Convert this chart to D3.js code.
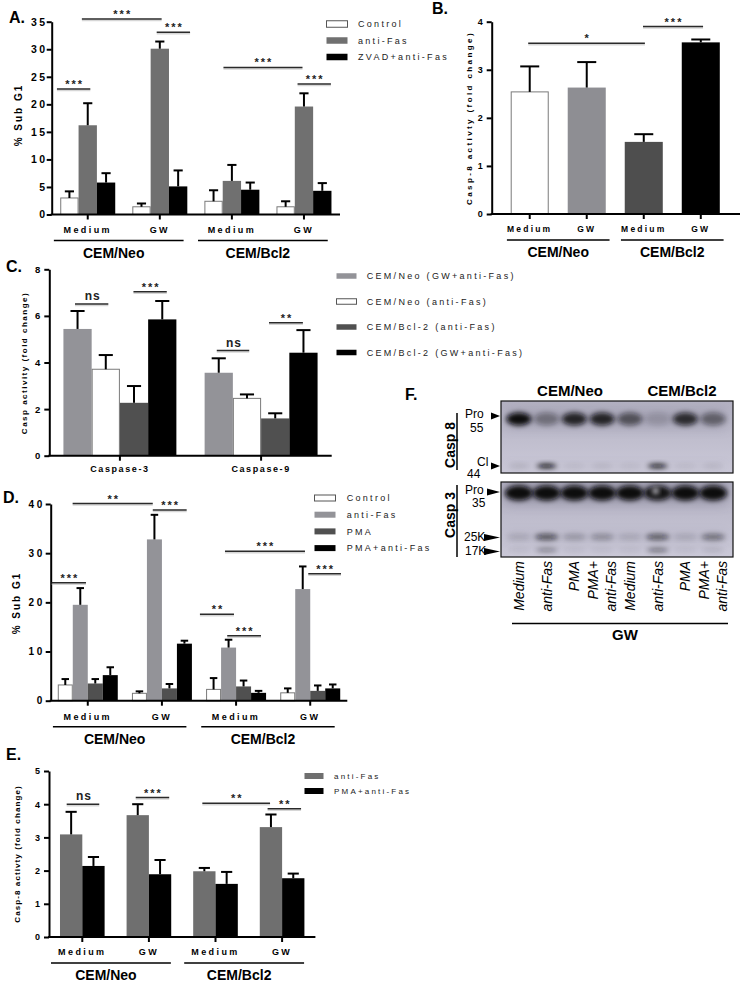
<!DOCTYPE html>
<html>
<head>
<meta charset="utf-8">
<script src="https://cdn.jsdelivr.net/npm/d3@7"></script>
<style>
body { margin: 0; background: #fff; }
svg { display: block; }
</style>
</head>
<body>
<div id="fig"></div>
<script>
// ---------- data ----------
// A: % sub G1, CEM/Neo and CEM/Bcl2, medium or GW
var aGroups = ["Medium", "GW", "Medium", "GW"];
var aSeries = ["Control", "anti-Fas", "ZVAD+anti-Fas"];
var aMeans = [[3.0, 16.2, 5.8], [1.4, 30.1, 5.1], [2.4, 6.1, 4.5], [1.4, 19.6, 4.3]];
var aErrs = [[1.2, 4.0, 1.7], [0.6, 1.3, 2.9], [2.0, 2.9, 1.3], [1.0, 2.4, 1.4]];
var aTicks = [0, 5, 10, 15, 20, 25, 30, 35];
var aSig = [
  {g1: 0, k1: -0.18, g2: 0, k2: 1.64, v: 22.8, t: "***"},
  {g1: 0, k1: 1.18, g2: 1, k2: 1.6, v: 35.5, t: "***"},
  {g1: 1, k1: 1.33, g2: 1, k2: 3.15, v: 33.1, t: "***"},
  {g1: 2, k1: 1.04, g2: 3, k2: 1.42, v: 26.7, t: "***"},
  {g1: 3, k1: 1.15, g2: 3, k2: 2.97, v: 23.7, t: "***"}
];

// B: casp-8 activity
var bGroups = ["Medium", "GW", "Medium", "GW"];
var bMeans = [2.54, 2.63, 1.50, 3.57];
var bErrs = [0.53, 0.53, 0.16, 0.06];
var bTicks = [0, 1, 2, 3, 4];
var bSig = [
  {g1: 0, k1: 0.46, g2: 2, k2: 0.53, v: 3.55, t: "*"},
  {g1: 2, k1: 0.48, g2: 3, k2: 0.56, v: 3.9, t: "***"}
];

// C: caspase-3 / caspase-9 activity
var cGroups = ["Caspase-3", "Caspase-9"];
var cSeries = ["CEM/Neo (GW+anti-Fas)", "CEM/Neo (anti-Fas)", "CEM/Bcl-2 (anti-Fas)", "CEM/Bcl-2 (GW+anti-Fas)"];
var cMeans = [[5.44, 3.71, 2.27, 5.85], [3.56, 2.46, 1.60, 4.42]];
var cErrs = [[0.77, 0.61, 0.72, 0.79], [0.62, 0.17, 0.22, 0.97]];
var cTicks = [0, 2, 4, 6, 8];
var cSig = [
  {g1: 0, k1: 0.41, g2: 0, k2: 1.59, v: 6.51, t: "ns"},
  {g1: 0, k1: 2.48, g2: 0, k2: 3.66, v: 7.04, t: "***"},
  {g1: 1, k1: 0.43, g2: 1, k2: 1.58, v: 4.51, t: "ns"},
  {g1: 1, k1: 2.28, g2: 1, k2: 3.48, v: 5.71, t: "**"}
];

// D: % sub G1 with PMA
var dGroups = ["Medium", "GW", "Medium", "GW"];
var dSeries = ["Control", "anti-Fas", "PMA", "PMA+anti-Fas"];
var dMeans = [[3.2, 19.5, 3.5, 5.2], [1.5, 32.8, 2.5, 11.6], [2.3, 10.8, 2.9, 1.6], [1.6, 22.7, 2.0, 2.5]];
var dErrs = [[1.2, 3.4, 0.9, 1.6], [0.4, 5.0, 0.9, 0.6], [2.3, 1.6, 1.2, 0.4], [0.9, 4.6, 1.1, 0.8]];
var dTicks = [0, 10, 20, 30, 40];
var dSig = [
  {g1: 0, k1: -0.41, g2: 0, k2: 1.88, v: 24.0, t: "***"},
  {g1: 0, k1: 0.99, g2: 1, k2: 1.39, v: 40.1, t: "**"},
  {g1: 1, k1: 1.39, g2: 1, k2: 3.65, v: 38.8, t: "***"},
  {g1: 2, k1: -0.41, g2: 2, k2: 1.86, v: 17.6, t: "**"},
  {g1: 2, k1: 1.41, g2: 2, k2: 3.66, v: 13.2, t: "***"},
  {g1: 2, k1: 1.26, g2: 3, k2: 1.65, v: 30.4, t: "***"},
  {g1: 3, k1: 1.87, g2: 3, k2: 4.05, v: 25.8, t: "***"}
];

// E: casp-8 activity with PMA
var eGroups = ["Medium", "GW", "Medium", "GW"];
var eSeries = ["anti-Fas", "PMA+anti-Fas"];
var eMeans = [[3.09, 2.14], [3.67, 1.89], [1.98, 1.60], [3.31, 1.77]];
var eErrs = [[0.68, 0.27], [0.33, 0.43], [0.10, 0.36], [0.38, 0.14]];
var eTicks = [0, 1, 2, 3, 4, 5];
var eSig = [
  {g1: 0, k1: 0.3, g2: 0, k2: 1.76, v: 4.0, t: "ns"},
  {g1: 1, k1: 0.41, g2: 1, k2: 1.91, v: 4.2, t: "***"},
  {g1: 2, k1: 0.41, g2: 3, k2: 0.46, v: 4.03, t: "**"},
  {g1: 3, k1: 0.35, g2: 3, k2: 1.85, v: 3.86, t: "**"}
];

// F: western blot, band intensity per lane (0..1)
var lanes = ["Medium", "anti-Fas", "PMA", "PMA+|anti-Fas", "Medium", "anti-Fas", "PMA", "PMA+|anti-Fas"];
var casp8Pro = [1.0, 0.35, 0.85, 0.85, 0.55, 0.12, 0.8, 0.45];
var casp8Cl = [0.1, 0.95, 0.05, 0.08, 0.05, 0.9, 0.05, 0.08];
var casp3Pro = [1, 1, 1, 1, 1, 0.95, 1, 1];
var casp3p25 = [0.12, 0.6, 0.22, 0.28, 0.12, 0.55, 0.12, 0.45];
var casp3p17 = [0.05, 0.35, 0.05, 0.05, 0.05, 0.45, 0.05, 0.1];

// ---------- drawing ----------
var FONT = '"Liberation Sans", Arial, Helvetica, sans-serif';
var svg = d3.select("#fig").append("svg")
  .attr("width", 741).attr("height", 986)
  .attr("font-family", FONT);

function styleAxis(sel, size, ls) {
  sel.attr("font-family", FONT).attr("font-size", size).attr("font-weight", "bold");
  sel.select(".domain").attr("stroke-width", 2);
  sel.selectAll(".tick line").attr("stroke-width", 2);
  sel.selectAll(".tick text").attr("letter-spacing", ls).attr("fill", "#000");
}

function barPanel(o) {
  var g = svg.append("g");
  var n = o.means[0].length;
  var x = d3.scaleBand().domain(d3.range(o.groups.length)).range(o.xr)
    .paddingInner(o.pad).paddingOuter(o.padOuter == null ? o.pad / 2 : o.padOuter);
  var bw = x.bandwidth() / n;
  var y = d3.scaleLinear().domain([0, o.ymax]).range(o.yr);
  var px = function (gi, k) { return x(gi) + k * bw; };

  var flat = [];
  o.means.forEach(function (row, gi) {
    row.forEach(function (v, k) { flat.push({g: gi, k: k, v: v, e: o.errs[gi][k]}); });
  });
  var col = function (d) { return o.colors[o.byGroup ? d.g : d.k]; };

  // bars
  g.append("g").selectAll("rect").data(flat).enter().append("rect")
    .attr("x", d => col(d) === "#fff" ? px(d.g, d.k) + 0.5 : px(d.g, d.k))
    .attr("width", d => col(d) === "#fff" ? bw - 1 : bw)
    .attr("y", d => y(d.v))
    .attr("height", d => y(0) - y(d.v))
    .attr("fill", col)
    .attr("stroke", d => col(d) === "#fff" ? "#7a7a7a" : "none");

  // error bars (upper only)
  var eb = g.append("g").attr("stroke", "#000").attr("stroke-width", 2);
  eb.selectAll(".stem").data(flat).enter().append("line")
    .attr("x1", d => px(d.g, d.k + 0.5)).attr("x2", d => px(d.g, d.k + 0.5))
    .attr("y1", d => y(d.v)).attr("y2", d => y(d.v + d.e));
  eb.selectAll(".cap").data(flat).enter().append("line")
    .attr("x1", d => px(d.g, d.k + 0.25)).attr("x2", d => px(d.g, d.k + 0.75))
    .attr("y1", d => y(d.v + d.e)).attr("y2", d => y(d.v + d.e));

  // y axis
  var ya = g.append("g").attr("transform", "translate(" + o.axisX + ",0)")
    .call(d3.axisLeft(y).tickValues(o.ticks).tickFormat(d3.format("d"))
      .tickSize(5).tickSizeOuter(0).tickPadding(o.tickPad));
  styleAxis(ya, o.tickFont, o.tickLs);

  // x axis
  var xa = g.append("g").attr("transform", "translate(0," + o.yr[0] + ")")
    .call(d3.axisBottom(x).tickSize(5).tickSizeOuter(0).tickPadding(o.xPad)
      .tickFormat(i => o.groups[i]));
  styleAxis(xa, o.xFont, o.xLs);
  xa.select(".domain").remove();
  g.append("line").attr("x1", o.axisX - 1).attr("x2", o.xEnd)
    .attr("y1", o.yr[0]).attr("y2", o.yr[0])
    .attr("stroke", "#000").attr("stroke-width", 2);

  // cell line groups
  if (o.cells) o.cells.forEach(function (c, i) {
    var st = x.step();
    var c0 = x(2 * i) + x.bandwidth() / 2, c1 = x(2 * i + 1) + x.bandwidth() / 2;
    var x0 = c0 - o.cellSpan[0] * st, x1 = c1 + o.cellSpan[1] * st;
    g.append("line").attr("x1", x0).attr("x2", x1)
      .attr("y1", o.yr[0] + 26).attr("y2", o.yr[0] + 26)
      .attr("stroke", "#000").attr("stroke-width", 1.5);
    g.append("text").attr("x", (x0 + x1) / 2 - o.cellShift).attr("y", o.yr[0] + 43)
      .attr("text-anchor", "middle").attr("font-weight", "bold").attr("font-size", 14)
      .text(c);
  });

  // significance
  o.sig.forEach(function (s) {
    var x1 = px(s.g1, s.k1), x2 = px(s.g2, s.k2), yy = y(s.v);
    g.append("line").attr("x1", x1).attr("x2", x2).attr("y1", yy + 1.5).attr("y2", yy + 1.5)
      .attr("stroke", "#bbb").attr("stroke-width", 1.5).attr("opacity", 0.6);
    g.append("line").attr("x1", x1).attr("x2", x2).attr("y1", yy).attr("y2", yy)
      .attr("stroke", "#2a2a2a").attr("stroke-width", 1.5);
    var ns = s.t === "ns";
    g.append("text").attr("x", (x1 + x2) / 2 + 1).attr("y", ns ? yy - 4 : yy - 1)
      .attr("text-anchor", "middle").attr("font-weight", "bold")
      .attr("font-size", ns ? 12 : 11).attr("letter-spacing", ns ? 1 : 2)
      .attr("fill", "#222").text(s.t);
  });

  // y label
  g.append("text").attr("transform", "translate(" + o.ylx + "," + o.yly + ") rotate(-90)")
    .attr("text-anchor", "middle").attr("font-weight", "bold")
    .attr("font-size", o.ylSize).attr("letter-spacing", o.ylLs).text(o.ylabel);

  // legend
  if (o.legend) {
    var L = o.legend;
    o.series.forEach(function (s, i) {
      var cy = L.y + i * L.dy;
      g.append("rect").attr("x", L.x + 0.5).attr("y", cy - L.h / 2).attr("width", L.w).attr("height", L.h)
        .attr("fill", o.colors[i]).attr("stroke", o.colors[i] === "#fff" ? "#555" : "none");
      g.append("text").attr("x", L.tx).attr("y", cy + L.size * 0.36)
        .attr("font-size", L.size).attr("letter-spacing", L.ls).attr("fill", "#222").text(s);
    });
  }

  // panel letter
  g.append("text").attr("x", o.letter[1]).attr("y", o.letter[2])
    .attr("font-weight", "bold").attr("font-size", 16).text(o.letter[0]);
}

barPanel({
  groups: aGroups, series: aSeries, means: aMeans, errs: aErrs,
  colors: ["#fff", "#707070", "#000"],
  xr: [51.7, 340], axisX: 51.7, xEnd: 340, pad: 0.237,
  yr: [214.5, 21.7], ymax: 35, ticks: aTicks, tickFont: 10.5, tickLs: 2.5, tickPad: -1,
  xFont: 9, xLs: 2.4, xPad: 7,
  cells: ["CEM/Neo", "CEM/Bcl2"], cellSpan: [0.47, 0.33], cellShift: 5,
  ylabel: "% Sub G1", ylx: 22, yly: 115, ylSize: 10, ylLs: 2,
  legend: {x: 326, y: 24, dy: 16.5, w: 21, h: 6.5, tx: 358, size: 9, ls: 2.3},
  sig: aSig, letter: ["A.", 9, 23]
});

barPanel({
  groups: bGroups, means: bMeans.map(v => [v]), errs: bErrs.map(e => [e]),
  colors: ["#fff", "#8e8e93", "#4e4e4e", "#000"], byGroup: true,
  xr: [501.2, 729.3], axisX: 491.7, xEnd: 740, pad: 0.333, padOuter: 0.1667,
  yr: [214, 21.7], ymax: 4, ticks: bTicks, tickFont: 9, tickLs: 1, tickPad: 3,
  xFont: 8.5, xLs: 2.2, xPad: 7,
  cells: ["CEM/Neo", "CEM/Bcl2"], cellSpan: [0.4, 0.4], cellShift: 0,
  ylabel: "Casp-8 activty (fold change)", ylx: 472, yly: 118, ylSize: 8, ylLs: 2.4,
  sig: bSig, letter: ["B.", 432, 14]
});

barPanel({
  groups: cGroups, series: cSeries, means: cMeans, errs: cErrs,
  colors: ["#939398", "#fff", "#505050", "#000"],
  xr: [49.3, 331.7], axisX: 49.3, xEnd: 331.7, pad: 0.2,
  yr: [455.7, 269.3], ymax: 8, ticks: cTicks, tickFont: 9.5, tickLs: 1, tickPad: 3,
  xFont: 9, xLs: 1.6, xPad: 5,
  ylabel: "Casp activity (fold change)", ylx: 27, yly: 363, ylSize: 8, ylLs: 1.5,
  legend: {x: 336, y: 276, dy: 25.5, w: 20, h: 5.5, tx: 366.7, size: 9, ls: 2.3},
  sig: cSig, letter: ["C.", 6, 272]
});

barPanel({
  groups: dGroups, series: dSeries, means: dMeans, errs: dErrs,
  colors: ["#fff", "#939398", "#505050", "#000"],
  xr: [50.7, 347.3], axisX: 50.7, xEnd: 347.3, pad: 0.191,
  yr: [700.7, 504], ymax: 40, ticks: dTicks, tickFont: 10, tickLs: 2.5, tickPad: 1,
  xFont: 9, xLs: 2.4, xPad: 8,
  cells: ["CEM/Neo", "CEM/Bcl2"], cellSpan: [0.47, 0.33], cellShift: 5,
  ylabel: "% Sub G1", ylx: 20, yly: 603, ylSize: 10, ylLs: 2,
  legend: {x: 314, y: 498, dy: 16.7, w: 21, h: 6, tx: 346.7, size: 9, ls: 2.3},
  sig: dSig, letter: ["D.", 3, 503]
});

barPanel({
  groups: eGroups, series: eSeries, means: eMeans, errs: eErrs,
  colors: ["#6f6f6f", "#000"],
  xr: [49, 315.4], axisX: 49, xEnd: 315.4, pad: 0.33,
  yr: [937, 771], ymax: 5, ticks: eTicks, tickFont: 9, tickLs: 1, tickPad: 3,
  xFont: 9, xLs: 2.4, xPad: 7,
  cells: ["CEM/Neo", "CEM/Bcl2"], cellSpan: [0.47, 0.33], cellShift: 5,
  ylabel: "Casp-8 activty (fold change)", ylx: 20, yly: 854, ylSize: 8, ylLs: 1.1,
  legend: {x: 304, y: 776, dy: 15, w: 19, h: 6, tx: 334, size: 8, ls: 2.2},
  sig: eSig, letter: ["E.", 6, 760]
});

// ---------- F: western blot ----------
(function () {
  var g = svg.append("g");
  var defs = svg.append("defs");
  defs.append("filter").attr("id", "blur").attr("x", "-50%").attr("y", "-100%")
    .attr("width", "200%").attr("height", "300%")
    .append("feGaussianBlur").attr("stdDeviation", 2.4);
  defs.append("filter").attr("id", "haze").attr("x", "-20%").attr("y", "-100%")
    .attr("width", "140%").attr("height", "300%")
    .append("feGaussianBlur").attr("stdDeviation", 6);
  var grad = defs.append("linearGradient").attr("id", "blotbg")
    .attr("x1", 0).attr("x2", 0).attr("y1", 0).attr("y2", 1);
  grad.append("stop").attr("offset", "0%").attr("stop-color", "#b3b1c2");
  grad.append("stop").attr("offset", "100%").attr("stop-color", "#cbc9d8");

  var lx = d3.scaleBand().domain(d3.range(lanes.length)).range([505, 727]);
  var lc = function (i) { return lx(i) + lx.bandwidth() / 2; };
  var blots = [{y0: 401, y1: 473, id: "c8"}, {y0: 482, y1: 557, id: "c3"}];
  blots.forEach(function (b) {
    defs.append("clipPath").attr("id", "clip" + b.id).append("rect")
      .attr("x", 501).attr("y", b.y0).attr("width", 232).attr("height", b.y1 - b.y0);
    g.append("rect").attr("x", 501).attr("y", b.y0).attr("width", 232).attr("height", b.y1 - b.y0)
      .attr("fill", "url(#blotbg)");
  });

  var bands = [
    {vals: casp8Pro, cy: 419, rx: 12.5, ry: 6.5, clip: "c8"},
    {vals: casp8Cl, cy: 466, rx: 10, ry: 2.2, clip: "c8"},
    {vals: casp3Pro, cy: 493, rx: 14, ry: 7.5, clip: "c3"},
    {vals: casp3p25, cy: 537, rx: 12, ry: 3.2, clip: "c3"},
    {vals: casp3p17, cy: 550, rx: 11, ry: 2.2, clip: "c3"}
  ];
  bands.forEach(function (bd) {
    var bg = g.append("g").attr("clip-path", "url(#clip" + bd.clip + ")");
    // faint smear under each band row
    bg.append("rect").attr("x", 505).attr("width", 222)
      .attr("y", bd.cy - bd.ry * 1.5).attr("height", bd.ry * 3)
      .attr("fill", "#3a3850").attr("opacity", d3.mean(bd.vals) * 0.25)
      .attr("filter", "url(#haze)");
    bg.selectAll("ellipse").data(bd.vals).enter().append("ellipse")
      .attr("cx", (d, i) => lc(i))
      .attr("cy", bd.cy)
      .attr("rx", bd.rx).attr("ry", bd.ry)
      .attr("fill", "#07070f").attr("opacity", d => d)
      .attr("filter", "url(#blur)");
  });
  // bubble artefact on the Casp 3 pro band, lane 6
  g.append("ellipse").attr("cx", lc(5) - 2).attr("cy", 491).attr("rx", 3).attr("ry", 3)
    .attr("fill", "#e8e6f0").attr("filter", "url(#blur)").attr("opacity", 0.9);

  blots.forEach(function (b) {
    g.append("rect").attr("x", 501).attr("y", b.y0).attr("width", 232).attr("height", b.y1 - b.y0)
      .attr("fill", "none").attr("stroke", "#111").attr("stroke-width", 1.2);
  });

  // cell line headers
  g.append("text").attr("x", 570).attr("y", 396).attr("text-anchor", "middle")
    .attr("font-weight", "bold").attr("font-size", 15).text("CEM/Neo");
  g.append("text").attr("x", 682).attr("y", 396).attr("text-anchor", "middle")
    .attr("font-weight", "bold").attr("font-size", 15).text("CEM/Bcl2");

  // marker labels and arrows
  var marks = [
    {t: "Pro", x: 465, y: 418, ay: 416, ax0: 491},
    {t: "55", x: 470, y: 432},
    {t: "Cl", x: 477, y: 466, ay: 466, ax0: 491},
    {t: "44", x: 467, y: 478},
    {t: "Pro", x: 465, y: 494, ay: 492, ax0: 487},
    {t: "35", x: 472, y: 507},
    {t: "25K", x: 464, y: 541, ay: 537.5, ax0: 484},
    {t: "17K", x: 465, y: 555, ay: 551.5, ax0: 484}
  ];
  marks.forEach(function (m) {
    g.append("text").attr("x", m.x).attr("y", m.y).attr("font-size", 12).text(m.t);
    if (m.ay != null) {
      g.append("path").attr("d", "M" + m.ax0 + "," + (m.ay - 3.5) + "L500," + m.ay + "L" + m.ax0 + "," + (m.ay + 3.5) + "Z")
        .attr("fill", "#000");
    }
  });

  // Casp labels with bracket lines
  [{t: "Casp 8", y0: 413, y1: 470, cy: 445}, {t: "Casp 3", y0: 485, y1: 557, cy: 515}].forEach(function (c) {
    g.append("line").attr("x1", 457).attr("x2", 457).attr("y1", c.y0).attr("y2", c.y1)
      .attr("stroke", "#000").attr("stroke-width", 1.5);
    g.append("text").attr("transform", "translate(455," + c.cy + ") rotate(-90)")
      .attr("text-anchor", "middle").attr("font-weight", "bold").attr("font-size", 14).text(c.t);
  });

  // lane labels
  lanes.forEach(function (l, i) {
    var parts = l.split("|");
    parts.forEach(function (p, j) {
      var off = parts.length === 1 ? 0 : (j === 0 ? -9 : 8.5);
      g.append("text").attr("transform", "translate(" + (lc(i) + off + 5) + ",561) rotate(-90)")
        .attr("text-anchor", "end").attr("font-style", "italic").attr("font-size", 14).text(p);
    });
  });
  g.append("line").attr("x1", 512).attr("x2", 728).attr("y1", 623.5).attr("y2", 623.5)
    .attr("stroke", "#000").attr("stroke-width", 1.5);
  g.append("text").attr("x", 625).attr("y", 640).attr("text-anchor", "middle")
    .attr("font-weight", "bold").attr("font-size", 15).text("GW");

  g.append("text").attr("x", 405).attr("y", 400).attr("font-weight", "bold").attr("font-size", 16).text("F.");
})();
</script>
</body>
</html>
